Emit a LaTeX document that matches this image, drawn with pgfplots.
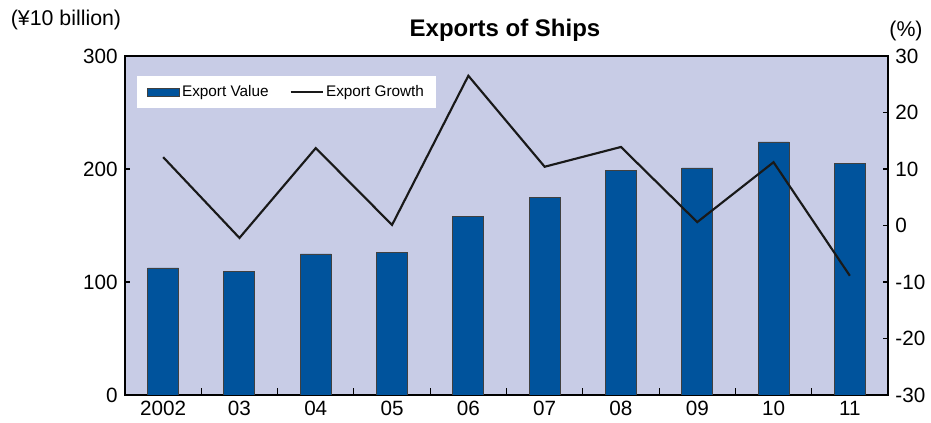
\documentclass[border=0pt]{standalone}
\usepackage{pgfplots}
\pgfplotsset{compat=1.18}
\usepackage{fontspec}
\setmainfont{Liberation Sans}
\definecolor{bgc}{HTML}{C8CCE6}
\definecolor{barc}{HTML}{00539C}
\begin{document}
\begin{tikzpicture}
\useasboundingbox (-93.75pt,-21pt) rectangle (604.5pt,296.25pt);
\pgfplotsset{every axis/.append style={
  scale only axis, width=572.25pt, height=254.25pt,
  at={(0,0)}, anchor=south west,
  xmin=-0.5, xmax=9.5,
  font=\fontsize{15.5}{18}\selectfont,
  tick align=inside,
  major tick length=4pt,
  tick style={black, line width=0.8pt},
}}
% left axis: export value (bars)
\begin{axis}[
  axis background/.style={fill=bgc},
  axis line style={black, line width=1.4pt},
  ymin=0, ymax=300,
  ytick={0,100,200,300},
  yticklabels={0,100,200,300},
  ytick pos=left,
  xtick={0,...,9},
  xticklabels={2002,03,04,05,06,07,08,09,10,11},
  xtick pos=bottom,
  major x tick style={draw=none},
  minor xtick={0.5,1.5,...,8.5},
  minor tick length=5pt,
  xticklabel style={yshift=-1pt},
  yticklabel style={xshift=-2pt},
]
\addplot[ybar, bar width=23.25pt, fill=barc, draw=black!75, line width=0.7pt]
  coordinates {(0,112.4) (1,109.7) (2,124.8) (3,125.7) (4,158.4)
               (5,175.2) (6,199.0) (7,200.9) (8,223.9) (9,205.3)};
\end{axis}
% right axis: export growth (line)
\begin{axis}[
  axis x line=none,
  axis y line*=right,
  axis line style={black, line width=1.4pt},
  ymin=-30, ymax=30,
  ytick={-30,-20,-10,0,10,20,30},
  yticklabels={-30,-20,-10,0,10,20,30},
  yticklabel style={xshift=2pt},
  legend columns=2,
  legend cell align=left,
  legend style={at={(0.0157,0.941)}, anchor=north west, fill=white, draw=none,
    font=\fontsize{11.5}{13}\selectfont, inner xsep=7pt, inner ysep=5pt,
    /tikz/every even column/.append style={column sep=14pt}},
]
\addlegendimage{legend image code/.code={\draw[fill=barc, draw=black!75, line width=0.6pt] (0pt,-3pt) rectangle (24pt,3pt);}}
\addlegendentry{Export Value}
\addplot[black!90, line width=1.6pt, mark=none,
  legend image code/.code={\draw[black!90, line width=1pt] (0pt,0pt) -- (24pt,0pt);}]
  coordinates {(0,12.1) (1,-2.2) (2,13.7) (3,0.1) (4,26.5)
               (5,10.4) (6,13.9) (7,0.6) (8,11.2) (9,-8.9)};
\addlegendentry{Export Growth}
\end{axis}
\node[font=\fontsize{18}{21}\selectfont\bfseries] at (285pt,273.75pt) {Exports of Ships};
\node[font=\fontsize{16}{19}\selectfont] at (-44.25pt,281.25pt) {(¥10 billion)};
\node[font=\fontsize{16}{19}\selectfont] at (585.75pt,273pt) {(\%)};
\end{tikzpicture}
\end{document}
